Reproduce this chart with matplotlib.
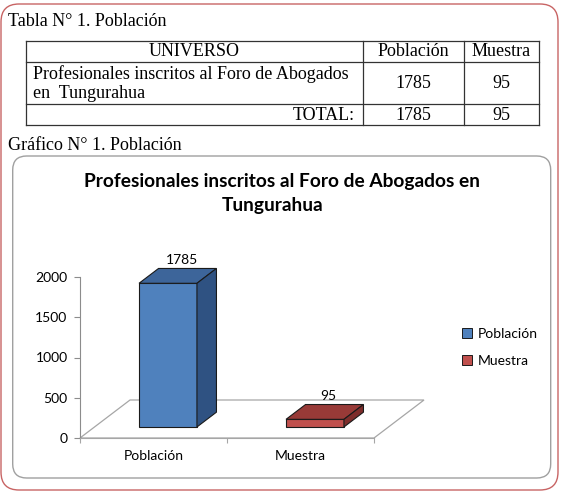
import matplotlib.pyplot as plt
from matplotlib.patches import FancyBboxPatch, Polygon, Rectangle, Patch

# datos
categorias = ["Población", "Muestra"]
valores = [1785, 95]
tabla_header = ["UNIVERSO", "Población", "Muestra"]
tabla_fila = ["Profesionales inscritos al Foro de Abogados\nen  Tungurahua", "1785", "95"]
tabla_total = ["TOTAL:", "1785", "95"]
titulo = ["Profesionales inscritos al Foro de Abogados en", "Tungurahua"]
yticks = [0, 500, 1000, 1500, 2000]

front_cols = ["#4F81BD", "#C0504D"]
top_cols = ["#3D659A", "#983A37"]
side_cols = ["#2F5282", "#7E2D2B"]

serif = "Liberation Serif"
sans = "Lato"

fig = plt.figure(figsize=(5.62, 4.91), dpi=100)

# fondo en pixeles
ax0 = fig.add_axes([0, 0, 1, 1])
ax0.set_xlim(0, 562)
ax0.set_ylim(491, 0)
ax0.axis("off")

ax0.add_patch(FancyBboxPatch((1, 4), 557, 486, boxstyle="round,pad=0,rounding_size=18",
                             fc="white", ec="#C86464", lw=1.0))
ax0.add_patch(FancyBboxPatch((12.7, 156), 538, 322, boxstyle="round,pad=0,rounding_size=14",
                             fc="white", ec="#A0A0A0", lw=1.0))

fs_t = 13.0
ax0.text(8, 21, "Tabla N° 1. Población", family=serif, fontsize=fs_t, va="center", ha="left")
ax0.text(8, 145, "Gráfico N° 1. Población", family=serif, fontsize=fs_t, va="center", ha="left")

# tabla
xl, xc1, xc2, xr = 25.7, 363, 464, 539
rows = [40.7, 61.7, 104, 125]
for y in rows:
    ax0.plot([xl, xr], [y, y], color="#333333", lw=0.9)
for x in [xl, xc1, xc2, xr]:
    ax0.plot([x, x], [rows[0], rows[-1]], color="#333333", lw=0.9)
ax0.text((xl + xc1) / 2, 51.5, tabla_header[0], family=serif, fontsize=fs_t, ha="center", va="center")
ax0.text((xc1 + xc2) / 2, 51.5, tabla_header[1], family=serif, fontsize=fs_t, ha="center", va="center")
ax0.text((xc2 + xr) / 2, 51.5, tabla_header[2], family=serif, fontsize=fs_t, ha="center", va="center")
ax0.text(33, 83.5, tabla_fila[0], family=serif, fontsize=fs_t, ha="left", va="center", linespacing=1.15)
ax0.text((xc1 + xc2) / 2, 83.5, tabla_fila[1], family=serif, fontsize=fs_t, ha="center", va="center")
ax0.text((xc2 + xr) / 2, 83.5, tabla_fila[2], family=serif, fontsize=fs_t, ha="center", va="center")
ax0.text(355, 115, tabla_total[0], family=serif, fontsize=fs_t, ha="right", va="center")
ax0.text((xc1 + xc2) / 2, 115, tabla_total[1], family=serif, fontsize=fs_t, ha="center", va="center")
ax0.text((xc2 + xr) / 2, 115, tabla_total[2], family=serif, fontsize=fs_t, ha="center", va="center")

# titulo del grafico
ax0.text(281.5, 182, titulo[0], family=sans, fontweight="bold", fontsize=13.8, ha="center", va="center")
ax0.text(272.5, 205, titulo[1], family=sans, fontweight="bold", fontsize=13.8, ha="center", va="center")

# grafico 3d falso
ax = fig.add_axes([80 / 562, (491 - 438) / 491, 294 / 562, 161 / 491])
ax.set_facecolor("none")
ax.set_xlim(0, 2)
ax.set_ylim(0, 2000)

DX = 50 / 147          # profundidad en unidades de categoria
DY = 38 / (161 / 2000)  # profundidad en unidades de valor
d0, d1 = 0.29, 0.68
hw = 0.197
fs_ax = 10

floor = Polygon([(0, 0), (2, 0), (2 + DX, DY), (DX, DY)], closed=True,
                fc="none", ec="#A6A6A6", lw=0.9, clip_on=False, zorder=1)
ax.add_patch(floor)

for i, v in enumerate(valores):
    cx = i + 0.5
    x0 = cx - hw + d0 * DX
    x1 = cx + hw + d0 * DX
    y0 = d0 * DY
    ax.add_patch(Rectangle((x0, y0), x1 - x0, v, fc=front_cols[i], ec="#1A1A1A", lw=0.8,
                           clip_on=False, zorder=3))
    top = [(x0, y0 + v), (x1, y0 + v), (x1 + (d1 - d0) * DX, v + d1 * DY), (x0 + (d1 - d0) * DX, v + d1 * DY)]
    ax.add_patch(Polygon(top, closed=True, fc=top_cols[i], ec="#1A1A1A", lw=0.8, clip_on=False, zorder=3))
    side = [(x1, y0), (x1 + (d1 - d0) * DX, d1 * DY), (x1 + (d1 - d0) * DX, v + d1 * DY), (x1, y0 + v)]
    ax.add_patch(Polygon(side, closed=True, fc=side_cols[i], ec="#1A1A1A", lw=0.8, clip_on=False, zorder=3))
    tx = cx + (d0 + d1) / 2 * DX
    ty = v + (d0 + d1) / 2 * DY
    ax.annotate(str(v), (tx, ty), xytext=(4, 16), textcoords="offset pixels", annotation_clip=False,
                ha="center", va="center", family=sans, fontsize=fs_ax, zorder=4)

for s in ["top", "right"]:
    ax.spines[s].set_visible(False)
ax.spines["left"].set_color("#8C8C8C")
ax.spines["bottom"].set_color("#A6A6A6")
ax.set_yticks(yticks)
ax.set_yticklabels([str(t) for t in yticks], family=sans, fontsize=fs_ax)
ax.tick_params(axis="y", length=4, color="#8C8C8C", pad=5)
ax.set_xticks([0, 1, 2])
ax.set_xticklabels([])
ax.tick_params(axis="x", which="major", length=3.5, color="#A6A6A6")
ax.set_xticks([0.5, 1.5], minor=True)
ax.set_xticklabels(categorias, minor=True, family=sans, fontsize=fs_ax)
ax.tick_params(axis="x", which="minor", length=0, pad=8.5)

handles = [Patch(fc=front_cols[0], ec="#1A1A1A", lw=0.7), Patch(fc=front_cols[1], ec="#1A1A1A", lw=0.7)]
fig.legend(handles, categorias, loc="upper left", bbox_to_anchor=(458 / 562, 1 - 324 / 491),
           frameon=False, prop={"family": sans, "size": fs_ax}, handlelength=0.7, handleheight=0.7,
           handletextpad=0.45, labelspacing=1.05, borderaxespad=0, borderpad=0.3)

fig.savefig("out.png", dpi=100)
